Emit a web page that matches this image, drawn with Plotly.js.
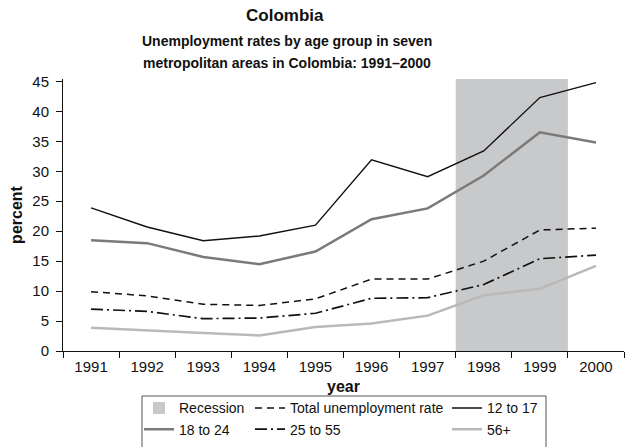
<!DOCTYPE html>
<html>
<head>
<meta charset="utf-8">
<script src="https://cdn.plot.ly/plotly-3.0.1.min.js"></script>
<style>html,body{margin:0;padding:0;background:#fff;}#chart{width:626px;height:447px;}</style>
</head>
<body>
<div id="chart"></div>
<script>
var years = ['1991','1992','1993','1994','1995','1996','1997','1998','1999','2000'];
var recessionYears = ['1998','1999'];
var totalRate = [9.9, 9.2, 7.8, 7.6, 8.7, 12.0, 12.0, 15.0, 20.2, 20.5];
var age12to17 = [23.9, 20.7, 18.4, 19.2, 21.0, 31.9, 29.1, 33.4, 42.3, 44.8];
var age18to24 = [18.5, 18.0, 15.7, 14.5, 16.6, 22.0, 23.8, 29.3, 36.5, 34.8];
var age25to55 = [7.0, 6.6, 5.4, 5.5, 6.3, 8.8, 8.9, 11.1, 15.4, 16.0];
var age56plus = [3.9, 3.4, 3.0, 2.6, 4.0, 4.6, 5.9, 9.3, 10.4, 14.2];
var yTicks = [0, 5, 10, 15, 20, 25, 30, 35, 40, 45];
var yTop = 45.4;

var FONT = 'Liberation Sans, Arial, sans-serif';

var recStart = years.indexOf(recessionYears[0]) - 0.5;
var recEnd = years.indexOf(recessionYears[recessionYears.length - 1]) + 0.5;

var traces = [
  {type:'scatter', mode:'lines', x: years, y: age18to24, name:'18 to 24', legendrank:2,
   line:{color:'#7a7a7a', width:2.5}, legend:'legend'},
  {type:'scatter', mode:'lines', x: years, y: totalRate, name:'Total unemployment rate', legendrank:3,
   line:{color:'#111', width:1.5, dash:'7px,5px'}, legend:'legend2'},
  {type:'scatter', mode:'lines', x: years, y: age25to55, name:'25 to 55', legendrank:4,
   line:{color:'#111', width:1.7, dash:'12px,4px,2px,4px'}, legend:'legend2'},
  {type:'scatter', mode:'lines', x: years, y: age12to17, name:'12 to 17', legendrank:5,
   line:{color:'#111', width:1.4}, legend:'legend3'},
  {type:'scatter', mode:'lines', x: years, y: age56plus, name:'56+', legendrank:6,
   line:{color:'#b9b9b9', width:2.5}, legend:'legend3'}
];

var legendBase = {orientation:'v', yanchor:'top', xanchor:'left',
  y:(351 - 392.4) / 272,
  bgcolor:'rgba(0,0,0,0)', borderwidth:0, font:{family:FONT, size:14, color:'#111'},
  tracegroupgap:0, traceorder:'normal'};

var layout = {
  width:626, height:447,
  margin:{l:63, r:2, t:79, b:96},
  paper_bgcolor:'#fff', plot_bgcolor:'#fff',
  font:{family:FONT, size:15, color:'#111'},
  xaxis:{type:'category', categoryorder:'array', categoryarray:years, range:[-0.5, 9.5],
    tickson:'boundaries', ticks:'outside', ticklen:6, ticklabelstandoff:2,
    tickcolor:'#111', showline:true, linecolor:'#111', linewidth:1, showgrid:false, zeroline:false,
    tickfont:{size:15}, fixedrange:true,
    title:{text:'<b>year</b>', font:{size:16}, standoff:6}},
  yaxis:{range:[0, yTop], tickvals:yTicks, ticks:'outside', ticklen:6, tickcolor:'#111', ticklabelstandoff:4,
    showline:true, linecolor:'#111', linewidth:1, showgrid:false, zeroline:false,
    tickfont:{size:15}, fixedrange:true,
    title:{text:'<b>percent</b>', font:{size:16}, standoff:5}},
  legend: Object.assign({}, legendBase, {x:(139 - 63) / 561}),
  legend2: Object.assign({}, legendBase, {x:(250 - 63) / 561}),
  legend3: Object.assign({}, legendBase, {x:(447 - 63) / 561}),
  shapes:[
    {type:'rect', xref:'x', yref:'paper', x0:recStart, x1:recEnd, y0:0, y1:1, layer:'below',
     fillcolor:'#c8c9cb', line:{width:0},
     showlegend:true, name:'Recession', legend:'legend', legendrank:1},
    {type:'rect', xref:'paper', yref:'paper', x0:(142 - 63) / 561, x1:(546 - 63) / 561,
     y0:(351 - 470) / 272, y1:(351 - 396) / 272,
     line:{color:'#555', width:1}, fillcolor:'rgba(0,0,0,0)'}
  ],
  annotations:[
    {text:'<b>Colombia</b>', xref:'paper', yref:'paper', x:0.396, y:1.232, showarrow:false,
     xanchor:'center', yanchor:'middle', font:{size:17}},
    {text:'<b>Unemployment rates by age group in seven</b>', xref:'paper', yref:'paper', x:0.4, y:1.14,
     showarrow:false, xanchor:'center', yanchor:'middle', font:{size:14}},
    {text:'<b>metropolitan areas in Colombia: 1991–2000</b>', xref:'paper', yref:'paper', x:0.4, y:1.06,
     showarrow:false, xanchor:'center', yanchor:'middle', font:{size:14}}
  ]
};

Plotly.newPlot('chart', traces, layout, {displayModeBar:false, staticPlot:true});
</script>
</body>
</html>
